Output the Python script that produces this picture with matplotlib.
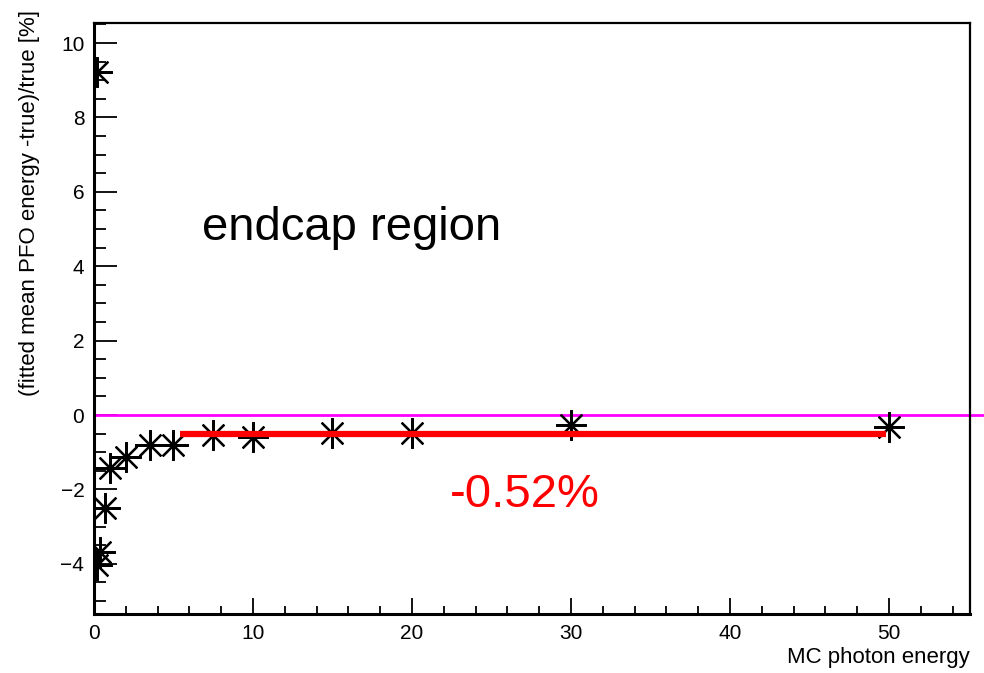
import matplotlib
matplotlib.use("Agg")
import matplotlib.pyplot as plt
from matplotlib.ticker import MultipleLocator

plt.rcParams['font.family'] = ['Liberation Sans', 'DejaVu Sans']

# data
energy = [0.2, 0.2, 0.4, 0.7, 1.0, 2.0, 3.5, 5.0, 7.5, 10, 15, 20, 30, 50]
deviation = [9.22, -4.03, -3.68, -2.50, -1.42, -1.13, -0.81, -0.81, -0.54, -0.59, -0.48, -0.48, -0.27, -0.32]
fit_range = [5.4, 49.8]
fit_value = -0.52
xlabel = "MC photon energy"
ylabel = "(fitted mean PFO energy -true)/true [%]"

fig = plt.figure(figsize=(9.84, 6.73), dpi=100)
ax = fig.add_axes([94/984, 1-614/673, (970-94)/984, (614-23)/673])

ax.set_xlim(0, 55.1)
ax.set_ylim(-5.35, 10.54)

# zero line extending past the frame
ax.plot([0, 56.0], [0, 0], color='#ff00ff', lw=2.0, clip_on=False, zorder=2)

ax.plot(energy, deviation, linestyle='none', marker=(8, 2, 0), markersize=22,
        markeredgewidth=1.6, color='black', zorder=3)

ax.plot(fit_range, [fit_value, fit_value], color='#ff0000', lw=4.5, zorder=4,
        solid_capstyle='butt')

ax.text(6.8, 4.70, "endcap region", fontsize=34, color='black', va='baseline', ha='left')
ax.text(22.4, -2.47, f"{fit_value:.2f}%", fontsize=34, color='#ff0000', va='baseline', ha='left')

ax.xaxis.set_major_locator(MultipleLocator(10))
ax.xaxis.set_minor_locator(MultipleLocator(2))
ax.yaxis.set_major_locator(MultipleLocator(2))
ax.yaxis.set_minor_locator(MultipleLocator(0.5))

ax.tick_params(axis='x', which='major', direction='in', length=11.5, width=1.3, labelsize=15, pad=7, top=False)
ax.tick_params(axis='x', which='minor', direction='in', length=5.8, width=1.3, top=False)
ax.tick_params(axis='y', which='major', direction='in', length=16.5, width=1.3, labelsize=15, pad=7, right=False)
ax.tick_params(axis='y', which='minor', direction='in', length=8.6, width=1.3, right=False)

for s in ['left', 'bottom']:
    ax.spines[s].set_linewidth(2.2)
for s in ['right', 'top']:
    ax.spines[s].set_linewidth(1.6)

fig.text(970/984, 1-658/673, xlabel, ha='right', va='center', fontsize=16)
fig.text(30/984, 1-10/673, ylabel, ha='center', va='top', rotation=90, fontsize=16)

fig.savefig("out.png", dpi=100)
